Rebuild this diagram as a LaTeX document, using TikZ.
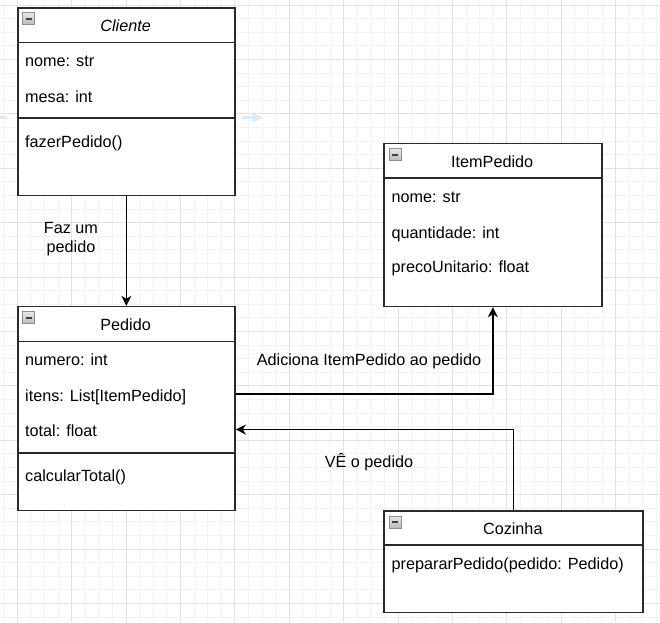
\documentclass[tikz,border=0pt]{standalone}
\usepackage{fontspec}
\setmainfont{Liberation Sans}
\usetikzlibrary{arrows.meta,calc}
\definecolor{gridminor}{HTML}{F3F3F3}
\definecolor{gridmajor}{HTML}{E2E2E2}
\definecolor{hoverblue}{HTML}{D6EEFB}
\definecolor{boxline}{HTML}{2A2A2A}
\definecolor{iconborder}{HTML}{8A8E99}
\tikzset{
  classbox/.style={draw=boxline, line width=1.5pt, fill=white, rectangle, inner sep=0pt, anchor=north west},
  sepline/.style={draw=boxline, line width=1.5pt},
  txt/.style={anchor=base west, inner sep=0pt, font=\fontsize{16.2}{19}\selectfont},
  ttl/.style={anchor=base, inner sep=0pt, font=\fontsize{16.2}{19}\selectfont},
  lbl/.style={inner sep=0pt, font=\fontsize{16.2}{19}\selectfont, align=center},
  conn/.style={draw=black, line width=1.4pt, -{Stealth[length=10pt,width=10pt,inset=3pt]}},
}
\newcommand{\clsicon}[2]{%
  \draw[draw=iconborder, line width=0.8pt, top color=gray!18, bottom color=gray!55] (#1,#2) rectangle ++(12,12);
  \draw[line width=1.6pt, draw=black!75] (#1+2.8,#2+6) -- (#1+9.2,#2+6);
}
\begin{document}
\begin{tikzpicture}[x=1pt,y=-1pt]
\useasboundingbox (0,0) rectangle (660,622);
\fill[white] (0,0) rectangle (660,622);
% grid
\begin{scope}
\clip (0,0) rectangle (660,622);
\foreach \i in {-2,...,48} {
  \draw[gridminor, line width=0.9pt] ({17.3+\i*13.6},0) -- ({17.3+\i*13.6},622);
  \draw[gridminor, line width=0.9pt] (0,{5+\i*13.6}) -- (660,{5+\i*13.6});
}
\foreach \i in {-1,...,12} {
  \draw[gridmajor, line width=0.9pt] ({17.3+\i*54.4},0) -- ({17.3+\i*54.4},622);
  \draw[gridmajor, line width=0.9pt] (0,{5+\i*54.4}) -- (660,{5+\i*54.4});
}
\end{scope}
% faint hover arrows
\fill[hoverblue] (0,116) rectangle (7.3,119);
\fill[hoverblue] (241.7,116) rectangle (253,119.4);
\fill[hoverblue] (252.5,112.8) -- (263.3,117.7) -- (252.5,122.6) -- cycle;

% Cliente
\node[classbox, minimum width=217.3pt, minimum height=187.5pt] (cliente) at (17,7) {};
\draw[sepline] (17,42.3) -- (234.3,42.3);
\draw[sepline] (17,118) -- (234.3,118);
\clsicon{22.7}{12.7}
\node[ttl, font=\fontsize{16.2}{19}\selectfont\itshape] (clientet) at (125.6,31) {Cliente};
\node[txt] (cnome) at (25,66.5) {nome: str};
\node[txt] (cmesa) at (25,102.5) {mesa: int};
\node[txt] (cfazer) at (25,147.5) {fazerPedido()};

% Pedido
\node[classbox, minimum width=217.3pt, minimum height=204pt] (pedido) at (17,305.8) {};
\draw[sepline] (17,341.7) -- (234.3,341.7);
\draw[sepline] (17,453) -- (234.3,453);
\clsicon{22.7}{311.8}
\node[ttl] (pedidot) at (125.6,330) {Pedido};
\node[txt] (pnumero) at (25,365) {numero: int};
\node[txt] (pitens) at (25,401.5) {itens: List[ItemPedido]};
\node[txt] (ptotal) at (25,436) {total: float};
\node[txt] (pcalc) at (25,481.5) {calcularTotal()};

% ItemPedido
\node[classbox, minimum width=217.7pt, minimum height=163pt] (itempedido) at (383.3,142.7) {};
\draw[sepline] (383.3,178) -- (601,178);
\clsicon{389}{148.7}
\node[ttl] (itemt) at (492.2,167.5) {ItemPedido};
\node[txt] (inome) at (391.5,202.5) {nome: str};
\node[txt] (iquant) at (391.5,238.3) {quantidade: int};
\node[txt] (ipreco) at (391.5,272.3) {precoUnitario: float};

% Cozinha
\node[classbox, minimum width=259pt, minimum height=101.7pt] (cozinha) at (383.3,510) {};
\draw[sepline] (383.3,545) -- (642.3,545);
\clsicon{389}{516}
\node[ttl] (cozt) at (512.8,534) {Cozinha};
\node[txt] (cprep) at (391.5,569) {prepararPedido(pedido: Pedido)};

% connectors
\coordinate (itensrow) at (234.3,394);
\coordinate (totalrow) at (234.3,429.5);
\draw[conn] (cliente.south) -- (pedido.north);
\draw[conn] (pedido.east |- itensrow) -| (itempedido.south);
\draw[conn] (cozinha.north) |- (pedido.east |- totalrow);

% labels
\node[lbl] (lfaz) at (71,238.8) {Faz um\\pedido};
\node[ttl] (ladic) at (369,365.7) {Adiciona ItemPedido ao pedido};
\node[ttl] (lve) at (369,467.3) {VÊ o pedido};
\end{tikzpicture}
\end{document}
